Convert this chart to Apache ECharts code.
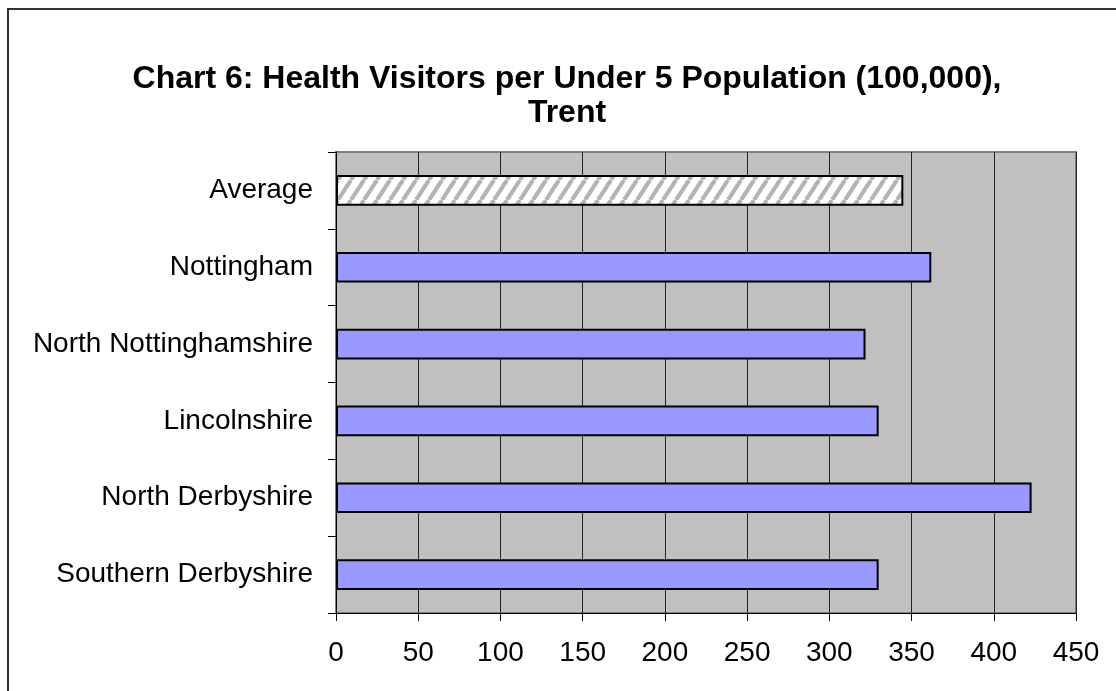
<!DOCTYPE html>
<html>
<head>
<meta charset="utf-8">
<script src="https://cdn.jsdelivr.net/npm/echarts@6/dist/echarts.min.js"></script>
<style>
  html, body { margin: 0; padding: 0; background: #fff; }
  #chart { width: 1116px; height: 691px; }
</style>
</head>
<body>
<div id="chart"></div>
<script>
// chart data
const categories = ["Average", "Nottingham", "North Nottinghamshire", "Lincolnshire", "North Derbyshire", "Southern Derbyshire"];
const values = [345, 362, 322, 330, 423, 330];
const xTicks = [0, 50, 100, 150, 200, 250, 300, 350, 400, 450];

// hatch pattern for the Average bar
function makeHatch() {
  const c = document.createElement("canvas");
  c.width = 13;
  c.height = 20;
  const ctx = c.getContext("2d");
  ctx.fillStyle = "#ffffff";
  ctx.fillRect(0, 0, 13, 20);
  ctx.strokeStyle = "#b4b4b4";
  ctx.lineWidth = 4.2;
  ctx.beginPath();
  for (let k = -13; k <= 26; k += 13) {
    ctx.moveTo(k, 20);
    ctx.lineTo(k + 13, 0);
  }
  ctx.stroke();
  return c;
}

const chart = echarts.init(document.getElementById("chart"));
const font = "Liberation Sans, Arial, sans-serif";

let option = {
  animation: false,
  backgroundColor: "#ffffff",
  graphic: [
    {
      type: "rect",
      shape: { x: 8, y: 9, width: 1300, height: 900 },
      style: { fill: "none", stroke: "#333", lineWidth: 2 },
      z: 0,
    },
    {
      type: "text",
      x: 567,
      y: 62,
      style: {
        text: "Chart 6: Health Visitors per Under 5 Population (100,000),\nTrent",
        align: "center",
        font: "bold 32px " + font,
        lineHeight: 34,
        fill: "#000",
      },
    },
  ],
  grid: {
    left: 336,
    right: 40,
    top: 152,
    bottom: 78,
    show: true,
    backgroundColor: "#c0c0c0",
    borderColor: "#808080",
    borderWidth: 2,
  },
  xAxis: {
    type: "value",
    min: 0,
    max: 450,
    interval: 50,
    axisLine: { show: true, lineStyle: { color: "#000", width: 1 } },
    axisTick: { show: true, length: 8, lineStyle: { color: "#000" } },
    splitLine: { show: true, lineStyle: { color: "#222", width: 1 } },
    axisLabel: {
      fontFamily: font,
      fontSize: 28,
      color: "#000",
      margin: 26,
      customValues: xTicks,
    },
  },
  yAxis: {
    type: "category",
    inverse: true,
    data: categories,
    axisLine: { show: true, lineStyle: { color: "#000", width: 1 } },
    axisTick: { show: true, length: 8, lineStyle: { color: "#000" } },
    axisLabel: {
      fontFamily: font,
      fontSize: 28,
      color: "#000",
      margin: 23,
    },
  },
  series: [
    {
      type: "bar",
      barWidth: "40%",
      data: values.map(function (v, i) {
        if (i === 0) {
          return {
            value: v,
            itemStyle: { color: { image: makeHatch(), repeat: "repeat" } },
          };
        }
        return v;
      }),
      itemStyle: {
        color: "#9999ff",
        borderColor: "#000",
        borderWidth: 2,
      },
    },
  ],
};
chart.setOption(option);
</script>
</body>
</html>
